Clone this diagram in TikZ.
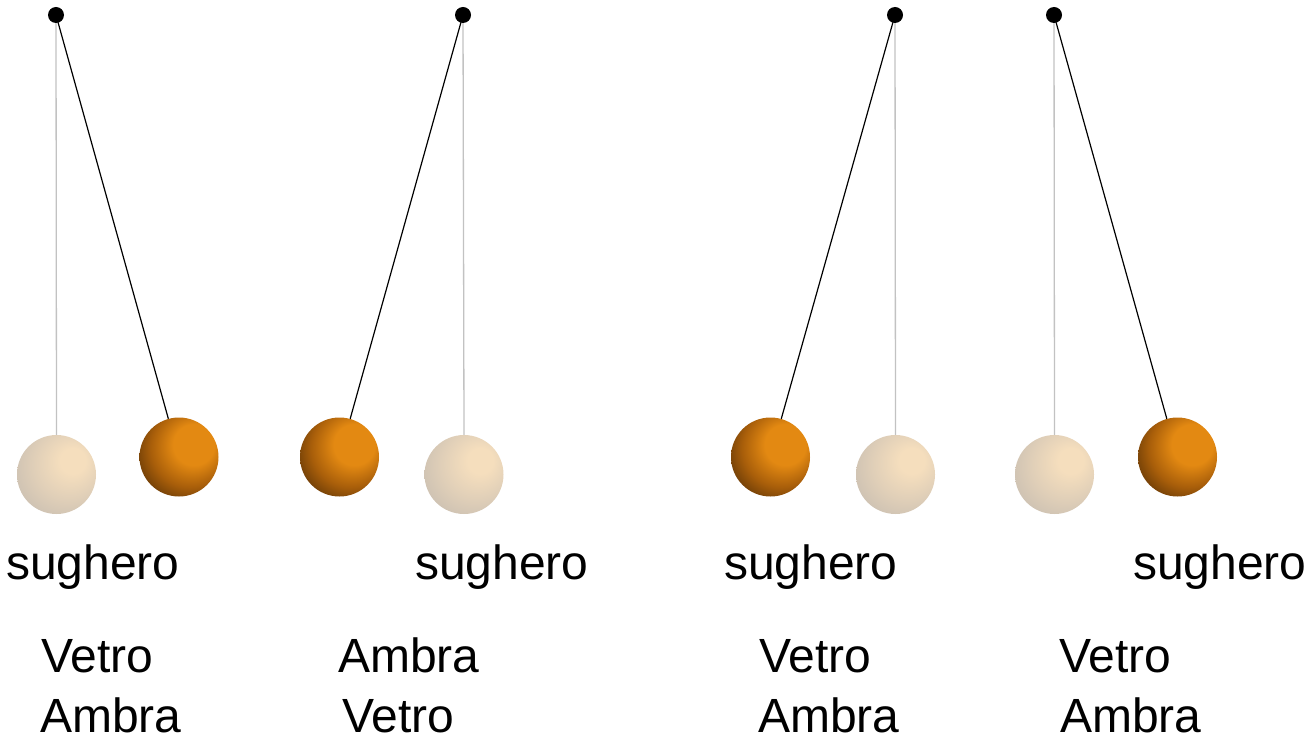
\documentclass[tikz,border=0pt]{standalone}
\usepackage{fontspec}
\setmainfont{Liberation Sans}
\definecolor{corkhi}{HTML}{F5DEBD}
\definecolor{corkmid}{HTML}{E0CFB8}
\definecolor{corklo}{HTML}{CBC0B2}
\definecolor{amberhi}{HTML}{E38912}
\definecolor{ambermid}{HTML}{A85E0A}
\definecolor{amberlo}{HTML}{583106}
\definecolor{threadgray}{HTML}{C2C2C2}
% spheres lit from the upper right (the middle 50bp square fits the ball)
\pgfdeclareradialshading{corkball}{\pgfpoint{12bp}{10bp}}{%
  color(0bp)=(corkhi); color(8bp)=(corkhi); color(22bp)=(corkmid);
  color(35bp)=(corklo); color(60bp)=(corklo)}
\pgfdeclareradialshading{amberball}{\pgfpoint{12bp}{10bp}}{%
  color(0bp)=(amberhi); color(13bp)=(amberhi); color(25bp)=(ambermid);
  color(37bp)=(amberlo); color(60bp)=(amberlo)}
\begin{document}
\begin{tikzpicture}[x=1pt,y=-1pt,
  pivot/.style={circle,fill=black,inner sep=0pt,minimum size=16pt},
  cork/.style={circle,inner sep=0pt,minimum size=79pt,shading=corkball},
  amber/.style={circle,inner sep=0pt,minimum size=79pt,shading=amberball},
  plumb/.style={draw=threadgray,line width=1.3pt},
  swing/.style={draw=black,line width=1.2pt},
  lbl/.style={anchor=base west,inner sep=0pt,font=\fontsize{48}{56}\selectfont}]
\useasboundingbox (0,0) rectangle (1308,735);

% suspension points
\coordinate (q1) at (56,15);
\coordinate (q2) at (463,15);
\coordinate (q3) at (895,15);
\coordinate (q4) at (1054,15);

% balls
\node[cork]  (c1) at (56.5,474.5) {};
\node[amber] (a1) at (179,457) {};
\node[amber] (a2) at (339.5,457) {};
\node[cork]  (c2) at (464,474.5) {};
\node[amber] (a3) at (770.5,457) {};
\node[cork]  (c3) at (895.5,474.5) {};
\node[cork]  (c4) at (1054.5,474.5) {};
\node[amber] (a4) at (1177.5,457) {};

% threads
\draw[plumb] (q1) -- (c1.north);
\draw[swing] (q1) -- (a1);
\draw[plumb] (q2) -- (c2.north);
\draw[swing] (q2) -- (a2);
\draw[plumb] (q3) -- (c3.north);
\draw[swing] (q3) -- (a3);
\draw[plumb] (q4) -- (c4.north);
\draw[swing] (q4) -- (a4);

% pivots
\node[pivot] (p1) at (q1) {};
\node[pivot] (p2) at (q2) {};
\node[pivot] (p3) at (q3) {};
\node[pivot] (p4) at (q4) {};

% labels
\node[lbl] (s1) at (6,579) {sughero};
\node[lbl] (s2) at (415,579) {sughero};
\node[lbl] (s3) at (724,579) {sughero};
\node[lbl] (s4) at (1133,579) {sughero};

\node[lbl] (v1) at (41,672) {Vetro};
\node[lbl] (m1) at (40,732) {Ambra};
\node[lbl] (m2) at (338,672) {Ambra};
\node[lbl] (v2) at (342,732) {Vetro};
\node[lbl] (v3) at (759,672) {Vetro};
\node[lbl] (m3) at (758,732) {Ambra};
\node[lbl] (v4) at (1059,672) {Vetro};
\node[lbl] (m4) at (1060,732) {Ambra};
\end{tikzpicture}
\end{document}
